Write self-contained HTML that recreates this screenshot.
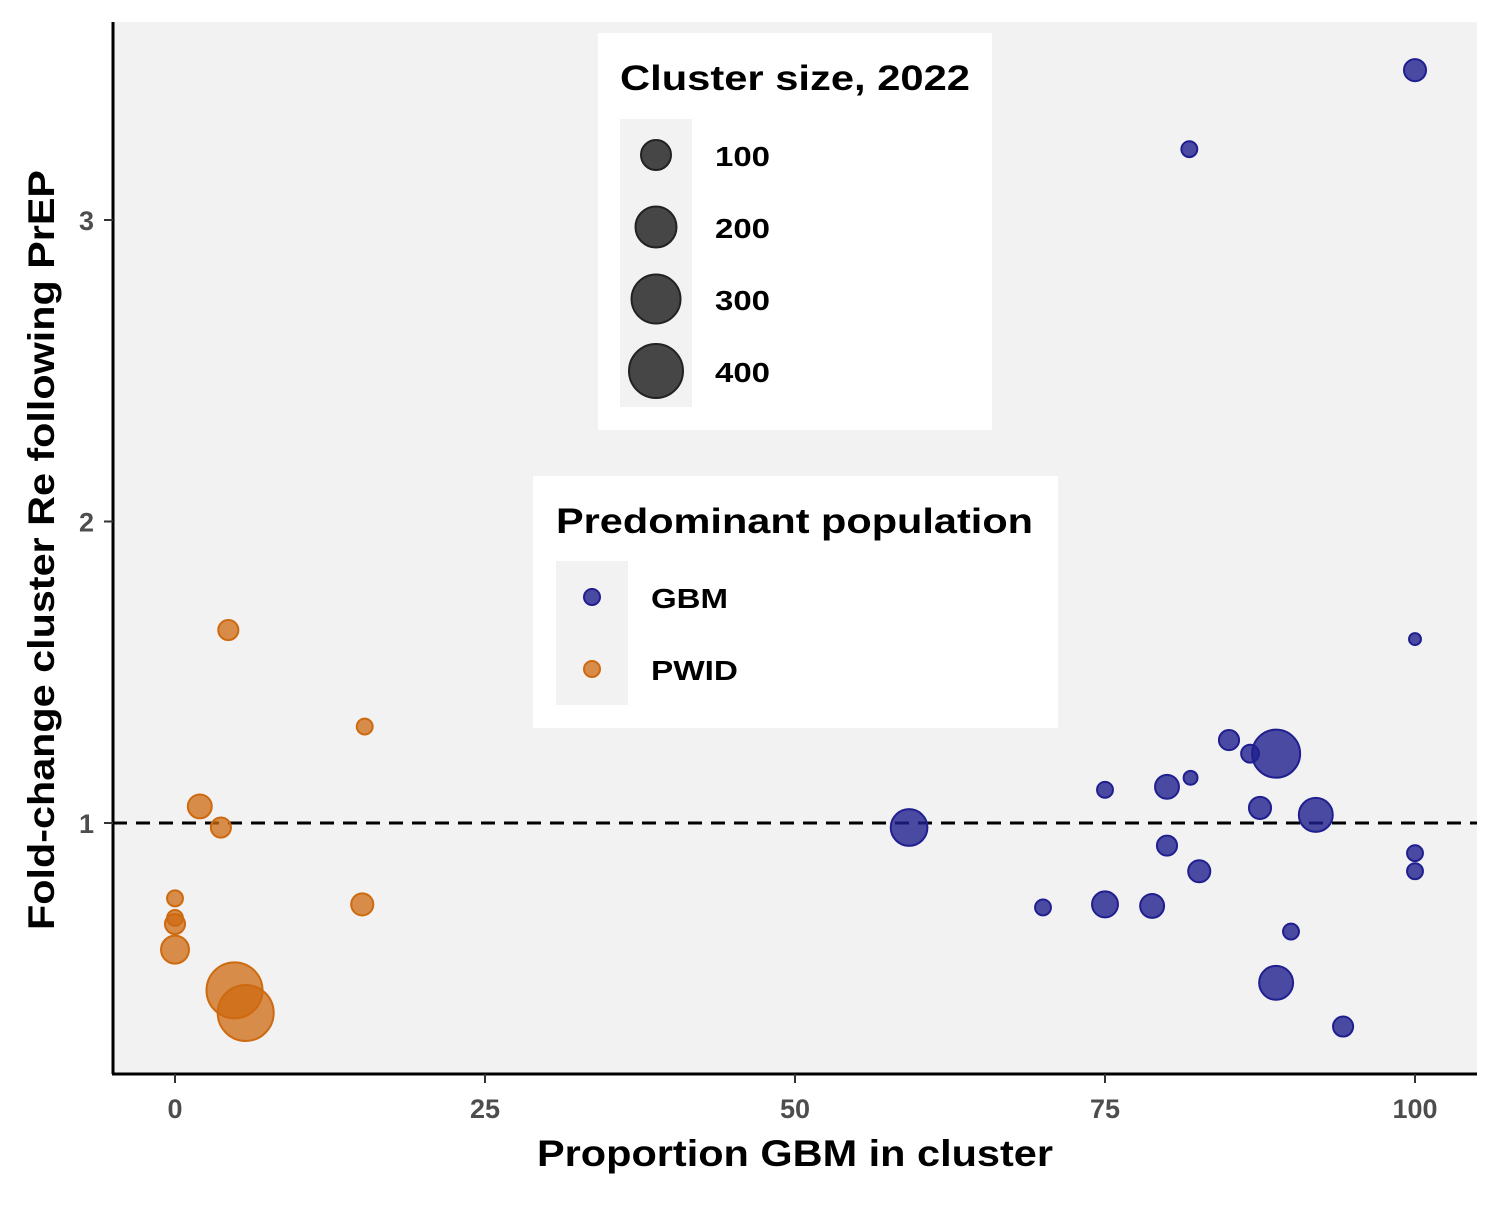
<!DOCTYPE html>
<html><head><meta charset="utf-8"><style>
body{margin:0;background:#fff;}
svg text{font-family:"Liberation Sans",Arial,sans-serif;font-weight:bold;}
</style></head><body>
<svg width="1500" height="1200">
<rect x="113" y="22" width="1364" height="1051" fill="#f2f2f2"/>
<g id="grid"></g>
<g id="marks"></g>
<line x1="113" y1="22" x2="113" y2="1074" stroke="#000" stroke-width="3"/>
<line x1="112" y1="1074" x2="1477" y2="1074" stroke="#000" stroke-width="3"/>
<g id="ticks"></g>
<text x="537" y="1166" font-size="37" textLength="516" lengthAdjust="spacingAndGlyphs">Proportion GBM in cluster</text>
<text transform="translate(54,930) rotate(-90)" font-size="37" textLength="760" lengthAdjust="spacingAndGlyphs">Fold-change cluster Re following PrEP</text>

<g>
<rect x="598" y="33" width="394" height="397" fill="#fff"/>
<text x="620" y="90" font-size="35" textLength="350" lengthAdjust="spacingAndGlyphs">Cluster size, 2022</text>
<rect x="620" y="119" width="72" height="288" fill="#f2f2f2"/>
<circle cx="656" cy="155" r="15" fill="#333" fill-opacity="0.9" stroke="#222" stroke-width="2"/>
<circle cx="656" cy="227" r="20.5" fill="#333" fill-opacity="0.9" stroke="#222" stroke-width="2"/>
<circle cx="656" cy="299" r="24.5" fill="#333" fill-opacity="0.9" stroke="#222" stroke-width="2"/>
<circle cx="656" cy="371" r="27" fill="#333" fill-opacity="0.9" stroke="#222" stroke-width="2"/>
<text x="715" y="166" font-size="28" textLength="55" lengthAdjust="spacingAndGlyphs">100</text>
<text x="715" y="238" font-size="28" textLength="55" lengthAdjust="spacingAndGlyphs">200</text>
<text x="715" y="310" font-size="28" textLength="55" lengthAdjust="spacingAndGlyphs">300</text>
<text x="715" y="382" font-size="28" textLength="55" lengthAdjust="spacingAndGlyphs">400</text>
</g>
<g>
<rect x="533" y="476" width="525" height="252" fill="#fff"/>
<text x="556" y="533" font-size="35" textLength="477" lengthAdjust="spacingAndGlyphs">Predominant population</text>
<rect x="556" y="561" width="72" height="144" fill="#f2f2f2"/>
<circle cx="592" cy="597" r="8" fill="#1f1f8f" fill-opacity="0.8" stroke="#1f1f8f" stroke-width="2"/>
<circle cx="592" cy="669" r="8" fill="#cd6a10" fill-opacity="0.75" stroke="#cd6a10" stroke-width="2"/>
<text x="651" y="608" font-size="28" textLength="77" lengthAdjust="spacingAndGlyphs">GBM</text>
<text x="651" y="680" font-size="28" textLength="87" lengthAdjust="spacingAndGlyphs">PWID</text>
</g>
</svg>
<script>
const xTicks=[0,25,50,75,100];
const yTicks=[1,2,3];
const gbmX=[100,81.8,100,85,86.7,88.8,81.9,75,80,87.5,92,59.2,80,100,100,82.6,70,75,78.8,90,88.8,94.2];
const gbmY=[3.497,3.235,1.61,1.275,1.23,1.23,1.15,1.11,1.12,1.05,1.027,0.985,0.925,0.9,0.84,0.84,0.72,0.73,0.725,0.64,0.47,0.325];
const gbmSize=[58,30,17,48,38,274,23,30,68,58,137,160,48,30,30,58,30,80,68,30,137,48];
const pwidX=[4.3,15.3,2,3.7,0,0,0,0,15.1,4.8,5.7];
const pwidY=[1.64,1.32,1.055,0.985,0.75,0.685,0.665,0.58,0.73,0.445,0.37];
const pwidSize=[48,30,68,48,30,30,48,93,58,373,373];
const X=v=>175+v*12.4;
const Y=v=>823-(v-1)*301.5;
const R=s=>1.45*Math.sqrt(s);
const NS="http://www.w3.org/2000/svg";
const grid=document.getElementById('grid'),marks=document.getElementById('marks'),ticks=document.getElementById('ticks');
const dl=document.createElementNS(NS,'line');


dl.setAttribute('x1',113);dl.setAttribute('x2',1477);dl.setAttribute('y1',Y(1));dl.setAttribute('y2',Y(1));
dl.setAttribute('stroke','#000');dl.setAttribute('stroke-width',3);dl.setAttribute('stroke-dasharray','14,9');
grid.appendChild(dl);
function pts(xs,ys,ss,col,op,name){
 xs.forEach((x,i)=>{
  const c=document.createElementNS(NS,'circle');
  
  
  c.setAttribute('cx',X(x));c.setAttribute('cy',Y(ys[i]));c.setAttribute('r',R(ss[i]));
  c.setAttribute('fill',col);c.setAttribute('fill-opacity',op);c.setAttribute('stroke',col);c.setAttribute('stroke-width',2);
  marks.appendChild(c);
 });
}
pts(pwidX,pwidY,pwidSize,'#cd6a10',0.75,'pwid-point');
pts(gbmX,gbmY,gbmSize,'#1f1f8f',0.8,'gbm-point');
xTicks.forEach(t=>{
 const l=document.createElementNS(NS,'line');
 
 
 l.setAttribute('x1',X(t));l.setAttribute('x2',X(t));l.setAttribute('y1',1074);l.setAttribute('y2',1083);l.setAttribute('stroke','#333');l.setAttribute('stroke-width',2);
 ticks.appendChild(l);
 const tx=document.createElementNS(NS,'text');
 
 
 tx.setAttribute('x',X(t));tx.setAttribute('y',1118);tx.setAttribute('text-anchor','middle');tx.setAttribute('font-size',27);tx.setAttribute('fill','#4d4d4d');
 tx.textContent=t;ticks.appendChild(tx);
});
yTicks.forEach(t=>{
 const l=document.createElementNS(NS,'line');
 
 
 l.setAttribute('x1',104);l.setAttribute('x2',113);l.setAttribute('y1',Y(t));l.setAttribute('y2',Y(t));l.setAttribute('stroke','#333');l.setAttribute('stroke-width',2);
 ticks.appendChild(l);
 const tx=document.createElementNS(NS,'text');
 
 
 tx.setAttribute('x',94);tx.setAttribute('y',Y(t)+10);tx.setAttribute('text-anchor','end');tx.setAttribute('font-size',27);tx.setAttribute('fill','#4d4d4d');
 tx.textContent=t;ticks.appendChild(tx);
});
</script>
</body></html>
